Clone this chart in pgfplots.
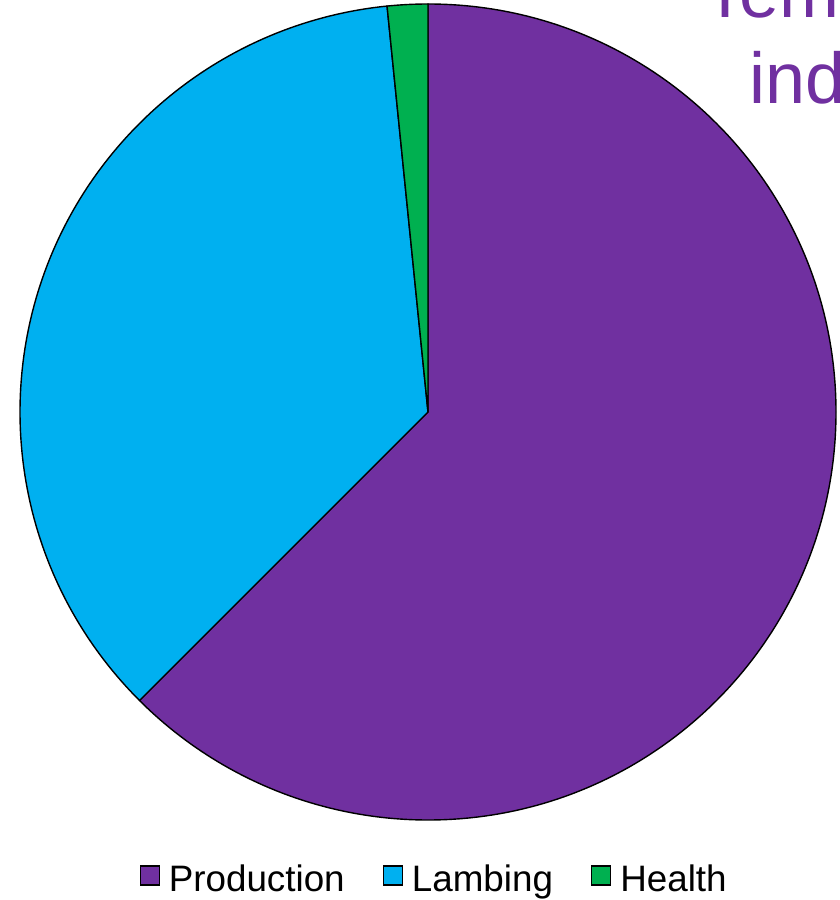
\documentclass[border=0pt]{standalone}
\usepackage{pgfplots}
\usepackage{pgfplotstable}
\pgfplotsset{compat=1.18}
\usepackage{fontspec}
\setmainfont{Liberation Sans}
\definecolor{prod}{HTML}{7030A0}
\definecolor{lamb}{HTML}{00B0F0}
\definecolor{heal}{HTML}{00B050}
\pgfplotstableread{
label value
Production 62.5
Lambing 35.9
Health 1.6
}\piedata
\begin{document}
\begin{tikzpicture}
\pgfplotstablegetelem{0}{value}\of\piedata \edef\vA{\pgfplotsretval}
\pgfplotstablegetelem{1}{value}\of\piedata \edef\vB{\pgfplotsretval}
\pgfplotstablegetelem{2}{value}\of\piedata \edef\vC{\pgfplotsretval}
\pgfmathsetmacro\aA{90-3.6*\vA}
\pgfmathsetmacro\aB{\aA-3.6*\vB}
\pgfmathsetmacro\aC{\aB-3.6*\vC}
\useasboundingbox (0,0) rectangle (420pt,450pt);
\clip (0,0) rectangle (420pt,450pt);
\begin{axis}[at={(0,0)},anchor=south west, scale only axis, width=420pt, height=450pt,
  xmin=0,xmax=840,ymin=0,ymax=900, hide axis, clip=false,
  legend style={at={(0.518,0.023)},anchor=center,draw=none,fill=none,legend columns=3,
    font=\fontsize{18.4pt}{22pt}\selectfont,
    /tikz/every odd column/.append style={column sep=2.5pt},
    /tikz/every even column/.append style={column sep=17pt}},
  legend image code/.code={\draw[#1,line width=0.6pt] (0pt,-2.8pt) rectangle (9.5pt,6.7pt);}]
\addlegendimage{fill=prod,draw=black}\addlegendentry{Production}
\addlegendimage{fill=lamb,draw=black}\addlegendentry{Lambing}
\addlegendimage{fill=heal,draw=black}\addlegendentry{Health}
\fill[prod,draw=black,line width=0.7pt] (axis cs:428,488) -- ++(90:204pt) arc[start angle=90,end angle=\aA,radius=204pt] -- cycle;
\fill[lamb,draw=black,line width=0.7pt] (axis cs:428,488) -- ++(\aA:204pt) arc[start angle=\aA,end angle=\aB,radius=204pt] -- cycle;
\fill[heal,draw=black,line width=0.7pt] (axis cs:428,488) -- ++(\aB:204pt) arc[start angle=\aB,end angle=\aC,radius=204pt] -- cycle;
\node[anchor=base west, text=prod, inner sep=0pt, font=\fontsize{36pt}{43pt}\selectfont] at (axis cs:703,882) {Tem};
\node[anchor=base west, text=prod, inner sep=0pt, font=\fontsize{36pt}{43pt}\selectfont] at (axis cs:749,796) {ind};
\end{axis}
\end{tikzpicture}
\end{document}
